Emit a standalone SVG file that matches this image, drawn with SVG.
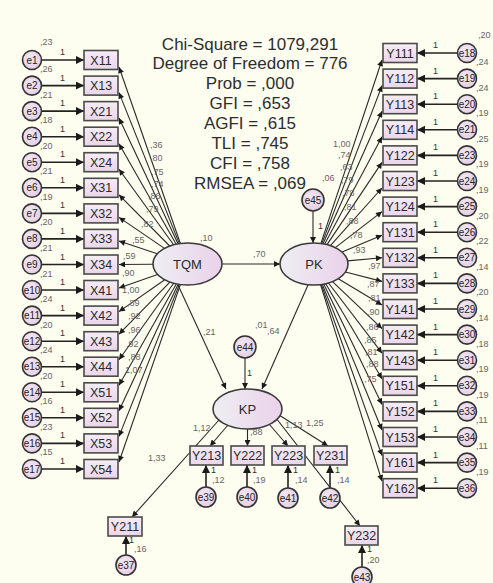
<svg xmlns="http://www.w3.org/2000/svg" width="493" height="583" viewBox="0 0 493 583">
<defs>
<linearGradient id="gb" x1="0" y1="0" x2="0" y2="1"><stop offset="0" stop-color="#F6ECF6"/><stop offset="1" stop-color="#EAD6EA"/></linearGradient>
<radialGradient id="gc" cx="0.4" cy="0.4" r="0.7"><stop offset="0" stop-color="#F4E8F4"/><stop offset="1" stop-color="#E2CCE2"/></radialGradient>
<linearGradient id="ge" x1="0" y1="0" x2="1" y2="0"><stop offset="0" stop-color="#EEEEF2"/><stop offset="1" stop-color="#EAD2EA"/></linearGradient>
<marker id="a" viewBox="0 0 10 10" refX="10" refY="5" markerWidth="9" markerHeight="6" markerUnits="userSpaceOnUse" orient="auto"><path d="M0,0 L10,5 L0,10 z" fill="#1a1a1a"/></marker>
<marker id="b" viewBox="0 0 10 10" refX="10" refY="5" markerWidth="11" markerHeight="8" markerUnits="userSpaceOnUse" orient="auto"><path d="M0,0 L10,5 L0,10 z" fill="#1a1a1a"/></marker>
</defs>
<style>
text{font-family:"Liberation Sans",Arial,sans-serif}
.box{fill:url(#gb);stroke:#4a4a4a;stroke-width:1.6}
.err{fill:url(#gc);stroke:#333;stroke-width:1.6}
.lat{fill:url(#ge);stroke:#3a3a3a;stroke-width:1.6}
.lbl{font-size:12.5px;fill:#2a2a2a;text-anchor:middle}
.el{font-size:10px;fill:#222;text-anchor:middle}
.num{font-size:9px;fill:#666}
.one{font-size:9px;fill:#333}
.stat{font-size:17px;fill:#2e2e2e;text-anchor:middle}
.lv{font-size:13px;fill:#2a2a2a;text-anchor:middle}
.c{stroke:#2a2a2a;stroke-width:1.1;fill:none;marker-end:url(#a)}
.cb{stroke:#222;stroke-width:1.6;fill:none;marker-end:url(#b)}
</style>
<rect x="0" y="0" width="493" height="583" fill="#FDFDF0"/>

<g id="connectors">
<line class="cb" x1="41.5" y1="60" x2="84" y2="60"/>
<line class="cb" x1="41.5" y1="85.6" x2="84" y2="85.6"/>
<line class="cb" x1="41.5" y1="111.1" x2="84" y2="111.1"/>
<line class="cb" x1="41.5" y1="136.7" x2="84" y2="136.7"/>
<line class="cb" x1="41.5" y1="162.2" x2="84" y2="162.2"/>
<line class="cb" x1="41.5" y1="187.8" x2="84" y2="187.8"/>
<line class="cb" x1="41.5" y1="213.4" x2="84" y2="213.4"/>
<line class="cb" x1="41.5" y1="238.9" x2="84" y2="238.9"/>
<line class="cb" x1="41.5" y1="264.5" x2="84" y2="264.5"/>
<line class="cb" x1="41.5" y1="290" x2="84" y2="290"/>
<line class="cb" x1="41.5" y1="315.6" x2="84" y2="315.6"/>
<line class="cb" x1="41.5" y1="341.2" x2="84" y2="341.2"/>
<line class="cb" x1="41.5" y1="366.7" x2="84" y2="366.7"/>
<line class="cb" x1="41.5" y1="392.3" x2="84" y2="392.3"/>
<line class="cb" x1="41.5" y1="417.8" x2="84" y2="417.8"/>
<line class="cb" x1="41.5" y1="443.4" x2="84" y2="443.4"/>
<line class="cb" x1="41.5" y1="469" x2="84" y2="469"/>
<line class="cb" x1="457.5" y1="53" x2="417" y2="53"/>
<line class="cb" x1="457.5" y1="78.6" x2="417" y2="78.6"/>
<line class="cb" x1="457.5" y1="104.2" x2="417" y2="104.2"/>
<line class="cb" x1="457.5" y1="129.8" x2="417" y2="129.8"/>
<line class="cb" x1="457.5" y1="155.4" x2="417" y2="155.4"/>
<line class="cb" x1="457.5" y1="181" x2="417" y2="181"/>
<line class="cb" x1="457.5" y1="206.6" x2="417" y2="206.6"/>
<line class="cb" x1="457.5" y1="232.2" x2="417" y2="232.2"/>
<line class="cb" x1="457.5" y1="257.8" x2="417" y2="257.8"/>
<line class="cb" x1="457.5" y1="283.4" x2="417" y2="283.4"/>
<line class="cb" x1="457.5" y1="309" x2="417" y2="309"/>
<line class="cb" x1="457.5" y1="334.6" x2="417" y2="334.6"/>
<line class="cb" x1="457.5" y1="360.2" x2="417" y2="360.2"/>
<line class="cb" x1="457.5" y1="385.8" x2="417" y2="385.8"/>
<line class="cb" x1="457.5" y1="411.4" x2="417" y2="411.4"/>
<line class="cb" x1="457.5" y1="437" x2="417" y2="437"/>
<line class="cb" x1="457.5" y1="462.6" x2="417" y2="462.6"/>
<line class="cb" x1="457.5" y1="488.2" x2="417" y2="488.2"/>
<line class="c" x1="180.4" y1="243.5" x2="119" y2="67"/>
<line class="c" x1="179.3" y1="243.6" x2="119" y2="92.6"/>
<line class="c" x1="178" y1="243.8" x2="119" y2="118.1"/>
<line class="c" x1="176.2" y1="244.2" x2="119" y2="143.7"/>
<line class="c" x1="173.6" y1="244.8" x2="119" y2="169.2"/>
<line class="c" x1="169.7" y1="246" x2="119" y2="194.8"/>
<line class="c" x1="164.5" y1="248.4" x2="119" y2="217.4"/>
<line class="c" x1="157.3" y1="253.8" x2="119" y2="240.9"/>
<line class="c" x1="153" y1="264.3" x2="119" y2="264.5"/>
<line class="c" x1="157.6" y1="274.5" x2="119" y2="288"/>
<line class="c" x1="164.8" y1="279.8" x2="119" y2="311.6"/>
<line class="c" x1="169.9" y1="282.1" x2="119" y2="334.2"/>
<line class="c" x1="173.7" y1="283.3" x2="119" y2="359.7"/>
<line class="c" x1="176.3" y1="283.9" x2="119" y2="385.3"/>
<line class="c" x1="178.1" y1="284.2" x2="119" y2="410.8"/>
<line class="c" x1="179.4" y1="284.4" x2="119" y2="436.4"/>
<line class="c" x1="180.4" y1="284.6" x2="119" y2="462"/>
<line class="c" x1="320.9" y1="243.4" x2="382" y2="60"/>
<line class="c" x1="321.8" y1="243.6" x2="382" y2="85.6"/>
<line class="c" x1="323" y1="243.8" x2="382" y2="111.2"/>
<line class="c" x1="324.7" y1="244.1" x2="382" y2="136.8"/>
<line class="c" x1="327" y1="244.6" x2="382" y2="162.4"/>
<line class="c" x1="330.4" y1="245.6" x2="382" y2="188"/>
<line class="c" x1="335.3" y1="247.6" x2="382" y2="211.6"/>
<line class="c" x1="342" y1="252.1" x2="382" y2="235.2"/>
<line class="c" x1="347.6" y1="260.9" x2="382" y2="257.8"/>
<line class="c" x1="345.4" y1="272" x2="382" y2="281.4"/>
<line class="c" x1="338.3" y1="278.7" x2="382" y2="305"/>
<line class="c" x1="332.5" y1="281.6" x2="382" y2="328.6"/>
<line class="c" x1="328.5" y1="283" x2="382" y2="353.2"/>
<line class="c" x1="325.7" y1="283.7" x2="382" y2="378.8"/>
<line class="c" x1="323.7" y1="284.1" x2="382" y2="404.4"/>
<line class="c" x1="322.3" y1="284.4" x2="382" y2="430"/>
<line class="c" x1="321.3" y1="284.5" x2="382" y2="455.6"/>
<line class="c" x1="320.5" y1="284.6" x2="382" y2="481.2"/>
<line class="c" x1="222" y1="264" x2="280" y2="264"/>
<line class="c" x1="178" y1="285" x2="226" y2="389"/>
<line class="c" x1="308" y1="285" x2="262" y2="389"/>
<line class="c" x1="313" y1="211" x2="313" y2="243"/>
<line class="c" x1="245" y1="358" x2="245" y2="389"/>
<line class="c" x1="219" y1="420" x2="132" y2="517"/>
<line class="c" x1="228" y1="425" x2="210" y2="446"/>
<line class="c" x1="247.5" y1="429" x2="247.5" y2="446"/>
<line class="c" x1="269" y1="424" x2="288" y2="446"/>
<line class="c" x1="279" y1="415" x2="328" y2="446"/>
<line class="c" x1="276" y1="418" x2="360" y2="526"/>
<line class="cb" x1="206" y1="487" x2="206" y2="465"/>
<line class="cb" x1="247" y1="487" x2="247" y2="465"/>
<line class="cb" x1="288" y1="488" x2="288" y2="465"/>
<line class="cb" x1="330" y1="488" x2="330" y2="465"/>
<line class="cb" x1="126" y1="555" x2="126" y2="536"/>
<line class="cb" x1="362" y1="567" x2="362" y2="545"/>
</g>

<g id="fit-stats">
<text class="stat" x="250" y="49.5">Chi-Square = 1079,291</text>
<text class="stat" x="250" y="69.4">Degree of Freedom = 776</text>
<text class="stat" x="250" y="89.2">Prob = ,000</text>
<text class="stat" x="250" y="109.1">GFI = ,653</text>
<text class="stat" x="250" y="128.9">AGFI = ,615</text>
<text class="stat" x="250" y="148.8">TLI = ,745</text>
<text class="stat" x="250" y="168.7">CFI = ,758</text>
<text class="stat" x="250" y="188.5">RMSEA = ,069</text>
</g>

<g id="X11"><rect class="box" x="84" y="50.5" width="34" height="19"/><text class="lbl" x="101" y="64.5">X11</text></g>
<g id="X13"><rect class="box" x="84" y="76.1" width="34" height="19"/><text class="lbl" x="101" y="90.1">X13</text></g>
<g id="X21"><rect class="box" x="84" y="101.6" width="34" height="19"/><text class="lbl" x="101" y="115.6">X21</text></g>
<g id="X22"><rect class="box" x="84" y="127.2" width="34" height="19"/><text class="lbl" x="101" y="141.2">X22</text></g>
<g id="X24"><rect class="box" x="84" y="152.7" width="34" height="19"/><text class="lbl" x="101" y="166.7">X24</text></g>
<g id="X31"><rect class="box" x="84" y="178.3" width="34" height="19"/><text class="lbl" x="101" y="192.3">X31</text></g>
<g id="X32"><rect class="box" x="84" y="203.9" width="34" height="19"/><text class="lbl" x="101" y="217.9">X32</text></g>
<g id="X33"><rect class="box" x="84" y="229.4" width="34" height="19"/><text class="lbl" x="101" y="243.4">X33</text></g>
<g id="X34"><rect class="box" x="84" y="255" width="34" height="19"/><text class="lbl" x="101" y="269">X34</text></g>
<g id="X41"><rect class="box" x="84" y="280.5" width="34" height="19"/><text class="lbl" x="101" y="294.5">X41</text></g>
<g id="X42"><rect class="box" x="84" y="306.1" width="34" height="19"/><text class="lbl" x="101" y="320.1">X42</text></g>
<g id="X43"><rect class="box" x="84" y="331.7" width="34" height="19"/><text class="lbl" x="101" y="345.7">X43</text></g>
<g id="X44"><rect class="box" x="84" y="357.2" width="34" height="19"/><text class="lbl" x="101" y="371.2">X44</text></g>
<g id="X51"><rect class="box" x="84" y="382.8" width="34" height="19"/><text class="lbl" x="101" y="396.8">X51</text></g>
<g id="X52"><rect class="box" x="84" y="408.3" width="34" height="19"/><text class="lbl" x="101" y="422.3">X52</text></g>
<g id="X53"><rect class="box" x="84" y="433.9" width="34" height="19"/><text class="lbl" x="101" y="447.9">X53</text></g>
<g id="X54"><rect class="box" x="84" y="459.5" width="34" height="19"/><text class="lbl" x="101" y="473.5">X54</text></g>

<g id="e1"><circle class="err" cx="32" cy="60" r="9.5"/><text class="el" x="32" y="63.5">e1</text></g>
<g id="e2"><circle class="err" cx="32" cy="85.6" r="9.5"/><text class="el" x="32" y="89.1">e2</text></g>
<g id="e3"><circle class="err" cx="32" cy="111.1" r="9.5"/><text class="el" x="32" y="114.6">e3</text></g>
<g id="e4"><circle class="err" cx="32" cy="136.7" r="9.5"/><text class="el" x="32" y="140.2">e4</text></g>
<g id="e5"><circle class="err" cx="32" cy="162.2" r="9.5"/><text class="el" x="32" y="165.7">e5</text></g>
<g id="e6"><circle class="err" cx="32" cy="187.8" r="9.5"/><text class="el" x="32" y="191.3">e6</text></g>
<g id="e7"><circle class="err" cx="32" cy="213.4" r="9.5"/><text class="el" x="32" y="216.9">e7</text></g>
<g id="e8"><circle class="err" cx="32" cy="238.9" r="9.5"/><text class="el" x="32" y="242.4">e8</text></g>
<g id="e9"><circle class="err" cx="32" cy="264.5" r="9.5"/><text class="el" x="32" y="268">e9</text></g>
<g id="e10"><circle class="err" cx="32" cy="290" r="9.5"/><text class="el" x="32" y="293.5">e10</text></g>
<g id="e11"><circle class="err" cx="32" cy="315.6" r="9.5"/><text class="el" x="32" y="319.1">e11</text></g>
<g id="e12"><circle class="err" cx="32" cy="341.2" r="9.5"/><text class="el" x="32" y="344.7">e12</text></g>
<g id="e13"><circle class="err" cx="32" cy="366.7" r="9.5"/><text class="el" x="32" y="370.2">e13</text></g>
<g id="e14"><circle class="err" cx="32" cy="392.3" r="9.5"/><text class="el" x="32" y="395.8">e14</text></g>
<g id="e15"><circle class="err" cx="32" cy="417.8" r="9.5"/><text class="el" x="32" y="421.3">e15</text></g>
<g id="e16"><circle class="err" cx="32" cy="443.4" r="9.5"/><text class="el" x="32" y="446.9">e16</text></g>
<g id="e17"><circle class="err" cx="32" cy="469" r="9.5"/><text class="el" x="32" y="472.5">e17</text></g>

<g id="left-values">
<text class="num" x="40" y="45">,23</text><text class="num" x="40" y="72">,26</text><text class="num" x="40" y="97.6">,21</text><text class="num" x="40" y="123.1">,18</text><text class="num" x="40" y="148.7">,20</text><text class="num" x="40" y="174.2">,21</text><text class="num" x="40" y="199.8">,19</text><text class="num" x="40" y="225.4">,20</text><text class="num" x="40" y="250.9">,21</text><text class="num" x="40" y="276.5">,21</text><text class="num" x="40" y="302">,24</text><text class="num" x="40" y="327.6">,20</text><text class="num" x="40" y="353.2">,24</text><text class="num" x="40" y="378.7">,20</text><text class="num" x="40" y="404.3">,16</text><text class="num" x="40" y="429.8">,23</text><text class="num" x="40" y="455.4">,15</text>
<text class="one" x="60" y="55">1</text><text class="one" x="60" y="80.6">1</text><text class="one" x="60" y="106.1">1</text><text class="one" x="60" y="131.7">1</text><text class="one" x="60" y="157.2">1</text><text class="one" x="60" y="182.8">1</text><text class="one" x="60" y="208.4">1</text><text class="one" x="60" y="233.9">1</text><text class="one" x="60" y="259.5">1</text><text class="one" x="60" y="285">1</text><text class="one" x="60" y="310.6">1</text><text class="one" x="60" y="336.2">1</text><text class="one" x="60" y="361.7">1</text><text class="one" x="60" y="387.3">1</text><text class="one" x="60" y="412.8">1</text><text class="one" x="60" y="438.4">1</text><text class="one" x="60" y="464">1</text>
<text class="num" x="150" y="148">,36</text><text class="num" x="150" y="161">,80</text><text class="num" x="151" y="175">,75</text><text class="num" x="151" y="187">,74</text><text class="num" x="148" y="199">,86</text><text class="num" x="146" y="212">,79</text><text class="num" x="141" y="227">,82</text><text class="num" x="132" y="243">,55</text><text class="num" x="123" y="259">,59</text><text class="num" x="122" y="276">,90</text><text class="num" x="122" y="293">1,00</text><text class="num" x="127" y="306">,89</text><text class="num" x="128" y="319">,92</text><text class="num" x="128" y="333">,96</text><text class="num" x="126" y="347">,92</text><text class="num" x="128" y="360">,88</text><text class="num" x="125" y="373">1,07</text>
</g>

<g id="Y111"><rect class="box" x="383" y="43.5" width="34" height="19"/><text class="lbl" x="400" y="57.5">Y111</text></g>
<g id="Y112"><rect class="box" x="383" y="69.1" width="34" height="19"/><text class="lbl" x="400" y="83.1">Y112</text></g>
<g id="Y113"><rect class="box" x="383" y="94.7" width="34" height="19"/><text class="lbl" x="400" y="108.7">Y113</text></g>
<g id="Y114"><rect class="box" x="383" y="120.3" width="34" height="19"/><text class="lbl" x="400" y="134.3">Y114</text></g>
<g id="Y122"><rect class="box" x="383" y="145.9" width="34" height="19"/><text class="lbl" x="400" y="159.9">Y122</text></g>
<g id="Y123"><rect class="box" x="383" y="171.5" width="34" height="19"/><text class="lbl" x="400" y="185.5">Y123</text></g>
<g id="Y124"><rect class="box" x="383" y="197.1" width="34" height="19"/><text class="lbl" x="400" y="211.1">Y124</text></g>
<g id="Y131"><rect class="box" x="383" y="222.7" width="34" height="19"/><text class="lbl" x="400" y="236.7">Y131</text></g>
<g id="Y132"><rect class="box" x="383" y="248.3" width="34" height="19"/><text class="lbl" x="400" y="262.3">Y132</text></g>
<g id="Y133"><rect class="box" x="383" y="273.9" width="34" height="19"/><text class="lbl" x="400" y="287.9">Y133</text></g>
<g id="Y141"><rect class="box" x="383" y="299.5" width="34" height="19"/><text class="lbl" x="400" y="313.5">Y141</text></g>
<g id="Y142"><rect class="box" x="383" y="325.1" width="34" height="19"/><text class="lbl" x="400" y="339.1">Y142</text></g>
<g id="Y143"><rect class="box" x="383" y="350.7" width="34" height="19"/><text class="lbl" x="400" y="364.7">Y143</text></g>
<g id="Y151"><rect class="box" x="383" y="376.3" width="34" height="19"/><text class="lbl" x="400" y="390.3">Y151</text></g>
<g id="Y152"><rect class="box" x="383" y="401.9" width="34" height="19"/><text class="lbl" x="400" y="415.9">Y152</text></g>
<g id="Y153"><rect class="box" x="383" y="427.5" width="34" height="19"/><text class="lbl" x="400" y="441.5">Y153</text></g>
<g id="Y161"><rect class="box" x="383" y="453.1" width="34" height="19"/><text class="lbl" x="400" y="467.1">Y161</text></g>
<g id="Y162"><rect class="box" x="383" y="478.7" width="34" height="19"/><text class="lbl" x="400" y="492.7">Y162</text></g>

<g id="e18"><circle class="err" cx="467" cy="53" r="9.5"/><text class="el" x="467" y="56.5">e18</text></g>
<g id="e19"><circle class="err" cx="467" cy="78.6" r="9.5"/><text class="el" x="467" y="82.1">e19</text></g>
<g id="e20"><circle class="err" cx="467" cy="104.2" r="9.5"/><text class="el" x="467" y="107.7">e20</text></g>
<g id="e21"><circle class="err" cx="467" cy="129.8" r="9.5"/><text class="el" x="467" y="133.3">e21</text></g>
<g id="e23"><circle class="err" cx="467" cy="155.4" r="9.5"/><text class="el" x="467" y="158.9">e23</text></g>
<g id="e24"><circle class="err" cx="467" cy="181" r="9.5"/><text class="el" x="467" y="184.5">e24</text></g>
<g id="e25"><circle class="err" cx="467" cy="206.6" r="9.5"/><text class="el" x="467" y="210.1">e25</text></g>
<g id="e26"><circle class="err" cx="467" cy="232.2" r="9.5"/><text class="el" x="467" y="235.7">e26</text></g>
<g id="e27"><circle class="err" cx="467" cy="257.8" r="9.5"/><text class="el" x="467" y="261.3">e27</text></g>
<g id="e28"><circle class="err" cx="467" cy="283.4" r="9.5"/><text class="el" x="467" y="286.9">e28</text></g>
<g id="e29"><circle class="err" cx="467" cy="309" r="9.5"/><text class="el" x="467" y="312.5">e29</text></g>
<g id="e30"><circle class="err" cx="467" cy="334.6" r="9.5"/><text class="el" x="467" y="338.1">e30</text></g>
<g id="e31"><circle class="err" cx="467" cy="360.2" r="9.5"/><text class="el" x="467" y="363.7">e31</text></g>
<g id="e32"><circle class="err" cx="467" cy="385.8" r="9.5"/><text class="el" x="467" y="389.3">e32</text></g>
<g id="e33"><circle class="err" cx="467" cy="411.4" r="9.5"/><text class="el" x="467" y="414.9">e33</text></g>
<g id="e34"><circle class="err" cx="467" cy="437" r="9.5"/><text class="el" x="467" y="440.5">e34</text></g>
<g id="e35"><circle class="err" cx="467" cy="462.6" r="9.5"/><text class="el" x="467" y="466.1">e35</text></g>
<g id="e36"><circle class="err" cx="467" cy="488.2" r="9.5"/><text class="el" x="467" y="491.7">e36</text></g>

<g id="right-values">
<text class="num" x="478" y="38">,20</text><text class="num" x="476" y="65">,24</text><text class="num" x="476" y="90.6">,24</text><text class="num" x="476" y="116.2">,19</text><text class="num" x="476" y="141.8">,25</text><text class="num" x="476" y="167.4">,19</text><text class="num" x="476" y="193">,19</text><text class="num" x="476" y="218.6">,20</text><text class="num" x="476" y="244.2">,22</text><text class="num" x="476" y="269.8">,14</text><text class="num" x="476" y="295.4">,20</text><text class="num" x="476" y="321">,14</text><text class="num" x="476" y="346.6">,18</text><text class="num" x="476" y="372.2">,19</text><text class="num" x="476" y="397.8">,19</text><text class="num" x="476" y="423.4">,11</text><text class="num" x="476" y="449">,11</text><text class="num" x="476" y="474.6">,19</text>
<text class="one" x="433" y="48">1</text><text class="one" x="433" y="73.6">1</text><text class="one" x="433" y="99.2">1</text><text class="one" x="433" y="124.8">1</text><text class="one" x="433" y="150.4">1</text><text class="one" x="433" y="176">1</text><text class="one" x="433" y="201.6">1</text><text class="one" x="433" y="227.2">1</text><text class="one" x="433" y="252.8">1</text><text class="one" x="433" y="278.4">1</text><text class="one" x="433" y="304">1</text><text class="one" x="433" y="329.6">1</text><text class="one" x="433" y="355.2">1</text><text class="one" x="433" y="380.8">1</text><text class="one" x="433" y="406.4">1</text><text class="one" x="433" y="432">1</text><text class="one" x="433" y="457.6">1</text><text class="one" x="433" y="483.2">1</text>
<text class="num" x="333" y="147">1,00</text><text class="num" x="338" y="158">,74</text><text class="num" x="340" y="170">,63</text><text class="num" x="341" y="183">,79</text><text class="num" x="342" y="196">,78</text><text class="num" x="344" y="210">,81</text><text class="num" x="346" y="224">,88</text><text class="num" x="350" y="238">,78</text><text class="num" x="353" y="253">,93</text><text class="num" x="368" y="269">,97</text><text class="num" x="367" y="287">,87</text><text class="num" x="368" y="301">,81</text><text class="num" x="367" y="315">,90</text><text class="num" x="366" y="330">,86</text><text class="num" x="364" y="343">,85</text><text class="num" x="365" y="355">,81</text><text class="num" x="366" y="367">,88</text><text class="num" x="364" y="382">,75</text>
</g>

<g id="TQM"><ellipse class="lat" cx="187.5" cy="264" rx="34.5" ry="21"/><text class="lv" x="187.5" y="268.5">TQM</text></g>
<g id="PK"><ellipse class="lat" cx="314" cy="264" rx="34" ry="21"/><text class="lv" x="314" y="268.5">PK</text></g>
<g id="KP"><ellipse class="lat" cx="247.5" cy="409" rx="34.5" ry="20"/><text class="lv" x="247.5" y="413.5">KP</text></g>
<g id="e45"><circle class="err" cx="313" cy="200" r="11"/><text class="el" x="313" y="203.5">e45</text></g>
<g id="e44"><circle class="err" cx="245" cy="347" r="11"/><text class="el" x="245" y="350.5">e44</text></g>

<g id="structural-values">
<text class="num" x="200" y="241">,10</text>
<text class="num" x="253" y="257">,70</text>
<text class="num" x="203" y="335">,21</text>
<text class="num" x="322" y="181">,06</text>
<text class="one" x="318" y="229">1</text>
<text class="num" x="255" y="328">,01</text>
<text class="num" x="267" y="334">,64</text>
<text class="one" x="247" y="376">1</text>
<text class="num" x="193" y="431">1,12</text>
<text class="num" x="250" y="435">,88</text>
<text class="num" x="285" y="428">1,13</text>
<text class="num" x="306" y="426">1,25</text>
<text class="num" x="148" y="461">1,33</text>
</g>

<g id="Y211"><rect class="box" x="108" y="517" width="34" height="19"/><text class="lbl" x="125" y="531">Y211</text></g>
<g id="Y213"><rect class="box" x="190" y="446" width="33" height="19"/><text class="lbl" x="206.5" y="460">Y213</text></g>
<g id="Y222"><rect class="box" x="231" y="446" width="33" height="19"/><text class="lbl" x="247.5" y="460">Y222</text></g>
<g id="Y223"><rect class="box" x="272" y="446" width="33" height="19"/><text class="lbl" x="288.5" y="460">Y223</text></g>
<g id="Y231"><rect class="box" x="314" y="446" width="33" height="19"/><text class="lbl" x="330.5" y="460">Y231</text></g>
<g id="Y232"><rect class="box" x="345" y="526" width="33" height="19"/><text class="lbl" x="361.5" y="540">Y232</text></g>

<g id="e39"><circle class="err" cx="206" cy="497" r="10"/><text class="el" x="206" y="500.5">e39</text></g>
<g id="e40"><circle class="err" cx="247" cy="497" r="10"/><text class="el" x="247" y="500.5">e40</text></g>
<g id="e41"><circle class="err" cx="288" cy="498" r="10"/><text class="el" x="288" y="501.5">e41</text></g>
<g id="e42"><circle class="err" cx="330" cy="498" r="10"/><text class="el" x="330" y="501.5">e42</text></g>
<g id="e37"><circle class="err" cx="126" cy="565" r="10"/><text class="el" x="126" y="568.5">e37</text></g>
<g id="e43"><circle class="err" cx="362" cy="577" r="10"/><text class="el" x="362" y="580.5">e43</text></g>

<g id="kp-values">
<text class="one" x="211" y="473">1</text><text class="num" x="212" y="483">,12</text>
<text class="one" x="252" y="473">1</text><text class="num" x="253" y="483">,19</text>
<text class="one" x="293" y="473">1</text><text class="num" x="295" y="483">,14</text>
<text class="one" x="335" y="473">1</text><text class="num" x="337" y="483">,14</text>
<text class="one" x="129" y="543">1</text><text class="num" x="134" y="552">,16</text>
<text class="one" x="367" y="552">1</text><text class="num" x="367" y="563">,20</text>
</g>
</svg>
